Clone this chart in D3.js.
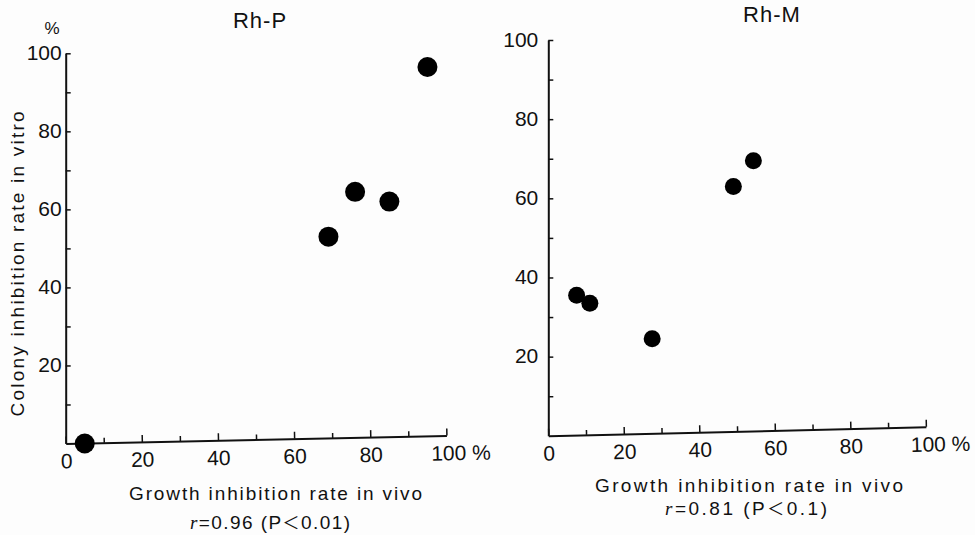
<!DOCTYPE html>
<html>
<head>
<meta charset="utf-8">
<script src="https://cdn.jsdelivr.net/npm/d3@7"></script>
<style>
  html, body { margin: 0; padding: 0; background: #fdfdfd; }
  svg { display: block; }
  .tick text { font-family: "Liberation Sans Narrow", "Liberation Sans", Arial, sans-serif; }
</style>
</head>
<body>
<svg id="chart" width="975" height="535"></svg>
<script>
// ---------- data ----------
const panelTitles = ["Rh-P", "Rh-M"];
const xTickValues = [0, 20, 40, 60, 80, 100];
const yTickValues = [20, 40, 60, 80, 100];
const minorTickValues = [10, 30, 50, 70, 90];
const rhP_invivo = [5, 69, 76, 85, 95];
const rhP_invitro = [0, 53, 64.5, 62, 96.5];
const rhM_invivo = [7.5, 11, 27.5, 49, 54.3];
const rhM_invitro = [35.5, 33.5, 24.5, 63, 69.5];
const xAxisTitle = "Growth inhibition rate in vivo";
const yAxisTitle = "Colony inhibition rate in vitro";
const rValues = ["0.96", "0.81"];
const pValues = ["0.01", "0.1"];

// ---------- layout ----------
const svg = d3.select("#chart");
const ink = "#111";

const layouts = [
  { x0: 65.7, x1: 446.5, y0: 443.5, y1: 53.3, angle: -1.2, r: 10, yPad: 4,
    title: [260, 20], xt: [275.5, 493, 293], st: [270, 522, 160], pct: true, yt: [17, 264, 305] },
  { x0: 548.3, x1: 926, y0: 435.8, y1: 40, angle: -1.36, r: 8.5, yPad: 10,
    title: [772, 14], xt: [749, 485, 308], st: [746, 508, 162], pct: false }
];
const series = [
  { xs: rhP_invivo, ys: rhP_invitro },
  { xs: rhM_invivo, ys: rhM_invitro }
];

layouts.forEach((L, i) => {
  const x = d3.scaleLinear().domain([0, 100]).range([L.x0, L.x1]);
  const y = d3.scaleLinear().domain([0, 100]).range([L.y0, L.y1]);
  const g = svg.append("g");

  // x axis (slightly tilted as in the original drawing)
  const gx = g.append("g")
    .attr("transform", `rotate(${L.angle}, ${L.x0}, ${L.y0}) translate(0, ${L.y0})`);
  gx.append("g")
    .call(d3.axisBottom(x).tickValues(minorTickValues).tickSizeInner(-5).tickSizeOuter(0).tickFormat(""))
    .call(a => a.select(".domain").remove());
  gx.append("g")
    .call(d3.axisBottom(x).tickValues(xTickValues).tickSizeInner(-7).tickSizeOuter(0).tickPadding(10)
      .tickFormat(d => d === 100 ? "100 %" : d));
  gx.selectAll("text").attr("font-size", 21).attr("fill", ink);
  gx.selectAll(".tick").filter(d => d === 100).select("text")
    .attr("text-anchor", "start").attr("x", -16);
  gx.selectAll(".domain").attr("stroke", ink).attr("stroke-width", 2);
  gx.selectAll(".tick line").attr("stroke", ink).attr("stroke-width", 1.5);

  // y axis
  const gy = g.append("g").attr("transform", `translate(${L.x0}, 0)`);
  gy.append("g")
    .call(d3.axisLeft(y).tickValues(minorTickValues).tickSizeInner(-5).tickSizeOuter(0).tickFormat(""))
    .call(a => a.select(".domain").remove());
  gy.append("g")
    .call(d3.axisLeft(y).tickValues(yTickValues).tickSizeInner(-5).tickSizeOuter(0).tickPadding(L.yPad));
  gy.selectAll("text").attr("font-size", 21).attr("fill", ink).attr("dy", "0.3em");
  gy.selectAll(".domain").attr("stroke", ink).attr("stroke-width", 2);
  gy.selectAll(".tick line").attr("stroke", ink).attr("stroke-width", 1.5);

  // points
  const s = series[i];
  g.append("g").selectAll("circle")
    .data(s.xs.map((v, k) => [v, s.ys[k]]))
    .join("circle")
    .attr("cx", d => x(d[0]))
    .attr("cy", d => y(d[1]))
    .attr("r", L.r)
    .attr("fill", "#000");

  // title
  g.append("text")
    .attr("x", L.title[0]).attr("y", L.title[1]).attr("dy", "0.35em")
    .attr("text-anchor", "middle")
    .attr("font-family", "Liberation Sans, Arial, sans-serif")
    .attr("font-size", 22).attr("letter-spacing", 1).attr("fill", ink)
    .text(panelTitles[i]);

  // x axis title
  g.append("text")
    .attr("x", L.xt[0]).attr("y", L.xt[1]).attr("dy", "0.35em")
    .attr("text-anchor", "middle")
    .attr("font-family", "Liberation Sans, Arial, sans-serif")
    .attr("font-size", 19).attr("fill", ink)
    .attr("textLength", L.xt[2]).attr("lengthAdjust", "spacing")
    .text(xAxisTitle);

  // correlation statement
  const st = g.append("text")
    .attr("x", L.st[0]).attr("y", L.st[1]).attr("dy", "0.35em")
    .attr("text-anchor", "middle")
    .attr("font-family", "Liberation Sans, Arial, sans-serif")
    .attr("font-size", 19).attr("fill", ink)
    .attr("textLength", L.st[2]).attr("lengthAdjust", "spacing");
  st.append("tspan").attr("font-family", "Liberation Serif, serif").attr("font-style", "italic").text("r");
  st.append("tspan").text(`=${rValues[i]} (P`);
  st.append("tspan").attr("font-family", "Noto Sans CJK JP, sans-serif").attr("font-size", 17).text("\uFF1C");
  st.append("tspan").text(`${pValues[i]})`);

  if (L.pct) {
    g.append("text")
      .attr("x", 52).attr("y", 28).attr("dy", "0.35em")
      .attr("text-anchor", "middle")
      .attr("font-family", "Liberation Sans, Arial, sans-serif")
      .attr("font-size", 17).attr("fill", ink)
      .text("%");
    g.append("text")
      .attr("transform", `translate(${L.yt[0]}, ${L.yt[1]}) rotate(-90)`)
      .attr("dy", "0.35em")
      .attr("text-anchor", "middle")
      .attr("font-family", "Liberation Sans, Arial, sans-serif")
      .attr("font-size", 19).attr("fill", ink)
      .attr("textLength", L.yt[2]).attr("lengthAdjust", "spacing")
      .text(yAxisTitle);
  }
});
</script>
</body>
</html>
